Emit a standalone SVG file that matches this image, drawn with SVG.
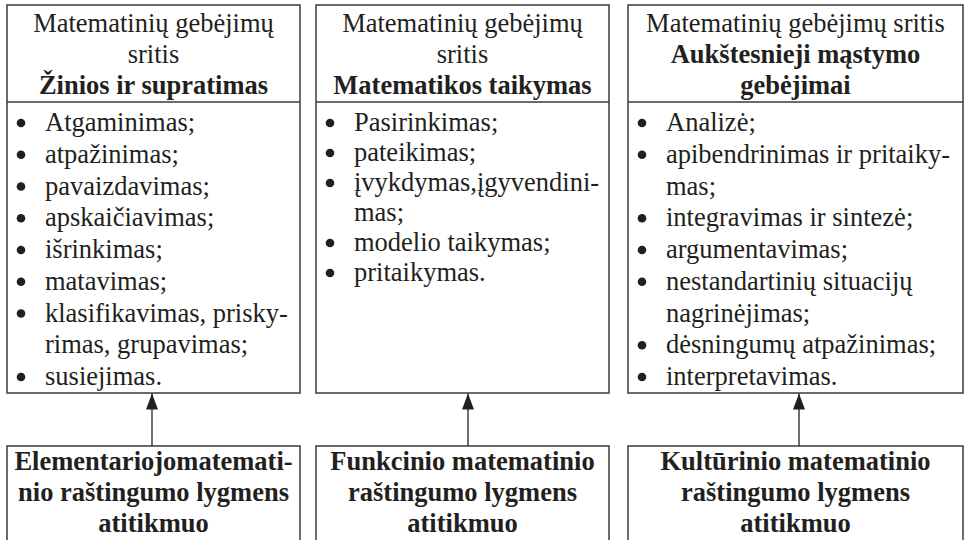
<svg xmlns="http://www.w3.org/2000/svg" width="964" height="540" viewBox="0 0 964 540">
<style>
.box{fill:#fff;stroke:#3a3a3a;stroke-width:1.5}
.div{stroke:#3a3a3a;stroke-width:1.5}
.t{font-family:'Liberation Serif','Times New Roman','DejaVu Serif',serif;font-size:26.5px;fill:#231f20}
.c{text-anchor:middle}
.b{font-weight:bold}
.dot{fill:#231f20}
.conn{stroke:#231f20;stroke-width:1.3;fill:none}
</style>
<defs>
<marker id="ah" markerUnits="userSpaceOnUse" markerWidth="16" markerHeight="12" refX="16" refY="6" orient="auto" viewBox="0 0 16 12">
<path d="M0,0 L16,6 L0,12 Z" fill="#231f20"/>
</marker>
</defs>
<rect width="964" height="540" fill="#fff"/>

<g id="node-zinios">
<rect class="box" x="7" y="5" width="293" height="388"/>
<line class="div" x1="7" y1="102" x2="300" y2="102"/>
<text class="t c" x="153.5" y="32">Matematinių gebėjimų</text>
<text class="t c" x="153.5" y="63">sritis</text>
<text class="t c b" x="153.5" y="94">Žinios ir supratimas</text>
<circle class="dot" cx="21" cy="123" r="4.3"/><text class="t" x="45" y="131">Atgaminimas;</text>
<circle class="dot" cx="21" cy="154.75" r="4.3"/><text class="t" x="45" y="162.75">atpažinimas;</text>
<circle class="dot" cx="21" cy="186.5" r="4.3"/><text class="t" x="45" y="194.5">pavaizdavimas;</text>
<circle class="dot" cx="21" cy="218.25" r="4.3"/><text class="t" x="45" y="226.25">apskaičiavimas;</text>
<circle class="dot" cx="21" cy="250" r="4.3"/><text class="t" x="45" y="258">išrinkimas;</text>
<circle class="dot" cx="21" cy="281.75" r="4.3"/><text class="t" x="45" y="289.75">matavimas;</text>
<circle class="dot" cx="21" cy="313.5" r="4.3"/><text class="t" x="45" y="321.5">klasifikavimas, prisky-</text>
<text class="t" x="45" y="353.25">rimas, grupavimas;</text>
<circle class="dot" cx="21" cy="377" r="4.3"/><text class="t" x="45" y="385">susiejimas.</text>
</g>

<g id="node-taikymas">
<rect class="box" x="316" y="5" width="293" height="388"/>
<line class="div" x1="316" y1="102" x2="609" y2="102"/>
<text class="t c" x="462.5" y="32">Matematinių gebėjimų</text>
<text class="t c" x="462.5" y="63">sritis</text>
<text class="t c b" x="462.5" y="94">Matematikos taikymas</text>
<circle class="dot" cx="330" cy="123" r="4.3"/><text class="t" x="354" y="131">Pasirinkimas;</text>
<circle class="dot" cx="330" cy="153" r="4.3"/><text class="t" x="354" y="161">pateikimas;</text>
<circle class="dot" cx="330" cy="183" r="4.3"/><text class="t" x="354" y="191">įvykdymas,įgyvendini-</text>
<text class="t" x="354" y="221">mas;</text>
<circle class="dot" cx="330" cy="243" r="4.3"/><text class="t" x="354" y="251">modelio taikymas;</text>
<circle class="dot" cx="330" cy="273" r="4.3"/><text class="t" x="354" y="281">pritaikymas.</text>
</g>

<g id="node-aukstesnieji">
<rect class="box" x="628" y="5" width="335" height="388"/>
<line class="div" x1="628" y1="102" x2="963" y2="102"/>
<text class="t c" x="795.5" y="32">Matematinių gebėjimų sritis</text>
<text class="t c b" x="795.5" y="63">Aukštesnieji mąstymo</text>
<text class="t c b" x="795.5" y="94">gebėjimai</text>
<circle class="dot" cx="642" cy="123" r="4.3"/><text class="t" x="666" y="131">Analizė;</text>
<circle class="dot" cx="642" cy="154.75" r="4.3"/><text class="t" x="666" y="162.75">apibendrinimas ir pritaiky-</text>
<text class="t" x="666" y="194.5">mas;</text>
<circle class="dot" cx="642" cy="218.25" r="4.3"/><text class="t" x="666" y="226.25">integravimas ir sintezė;</text>
<circle class="dot" cx="642" cy="250" r="4.3"/><text class="t" x="666" y="258">argumentavimas;</text>
<circle class="dot" cx="642" cy="281.75" r="4.3"/><text class="t" x="666" y="289.75">nestandartinių situacijų</text>
<text class="t" x="666" y="321.5">nagrinėjimas;</text>
<circle class="dot" cx="642" cy="345.25" r="4.3"/><text class="t" x="666" y="353.25">dėsningumų atpažinimas;</text>
<circle class="dot" cx="642" cy="377" r="4.3"/><text class="t" x="666" y="385">interpretavimas.</text>
</g>

<g id="node-elementarus">
<rect class="box" x="7" y="446" width="293" height="110"/>
<text class="t c b" x="153.5" y="470">Elementariojomatemati-</text>
<text class="t c b" x="153.5" y="501">nio raštingumo lygmens</text>
<text class="t c b" x="153.5" y="532">atitikmuo</text>
</g>

<g id="node-funkcinis">
<rect class="box" x="316" y="446" width="293" height="110"/>
<text class="t c b" x="462.5" y="470">Funkcinio matematinio</text>
<text class="t c b" x="462.5" y="501">raštingumo lygmens</text>
<text class="t c b" x="462.5" y="532">atitikmuo</text>
</g>

<g id="node-kulturinis">
<rect class="box" x="628" y="446" width="335" height="110"/>
<text class="t c b" x="795.5" y="470">Kultūrinio matematinio</text>
<text class="t c b" x="795.5" y="501">raštingumo lygmens</text>
<text class="t c b" x="795.5" y="532">atitikmuo</text>
</g>

<g id="connectors">
<line class="conn" x1="152" y1="446" x2="152" y2="393.5" marker-end="url(#ah)"/>
<line class="conn" x1="468" y1="446" x2="468" y2="393.5" marker-end="url(#ah)"/>
<line class="conn" x1="799" y1="446" x2="799" y2="393.5" marker-end="url(#ah)"/>
</g>
</svg>
